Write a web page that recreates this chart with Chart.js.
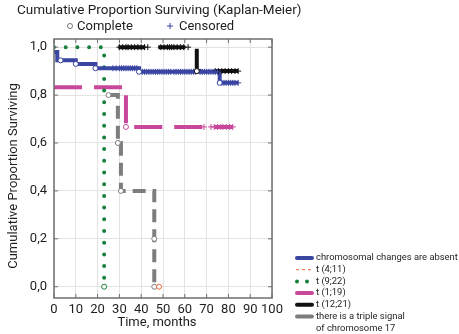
<!DOCTYPE html>
<html>
<head>
<meta charset="utf-8">
<script src="https://cdn.jsdelivr.net/npm/chart.js@4.4.0/dist/chart.umd.min.js"></script>
<style>
  html, body { margin: 0; padding: 0; background: #fff; }
  #wrap { position: relative; width: 459px; height: 334px; }
</style>
</head>
<body>
<div id="wrap"><canvas id="km"></canvas></div>
<script>
// Kaplan-Meier survival curves by karyotype group

const timeTicks = [0, 10, 20, 30, 40, 50, 60, 70, 80, 90, 100];
const survTicks = [0, 0.2, 0.4, 0.6, 0.8, 1.0];

// chromosomal changes are absent
const absentTimes = [0, 1.5, 10, 19, 39, 76, 84.5];
const absentSurv = [0.98, 0.945, 0.93, 0.912, 0.897, 0.851, 0.851];
const absentCompleteT = [3, 10, 19, 39, 76];
const absentCompleteS = [0.945, 0.93, 0.912, 0.897, 0.851];
const absentCensored = [27, 28.5, 30, 31, 32, 33, 34, 35, 36, 37, 38,
  40.5, 41.5, 42.5, 43.5, 44.5, 45.5, 46.5, 47.5, 48.5, 49.5, 50.5, 51.5, 52.5, 53.5,
  55, 56, 57, 58, 59, 60, 61, 62, 63, 64, 65, 67, 68, 69, 70, 71, 72, 73, 74, 75,
  77, 78, 79, 80, 81, 82, 83, 84.5];

// t(4;11)
const t411Times = [48.2];
const t411Surv = [0];
const t411CompleteT = [48.2];
const t411CompleteS = [0];
const t411Censored = [];

// t(9;22)
const t922Times = [0, 23];
const t922Surv = [1, 0];
const t922CompleteT = [23];
const t922CompleteS = [0];
const t922Censored = [];

// t(1;19)
const t119Times = [0, 33, 82];
const t119Surv = [0.833, 0.667, 0.667];
const t119CompleteT = [33];
const t119CompleteS = [0.667];
const t119Censored = [68.8, 72, 73.5, 75, 76.5, 77.5, 79, 80.5, 82];

// t(12;21)
const t1221Times = [29.5, 65.5, 84.5];
const t1221Surv = [1, 0.9, 0.9];
const t1221CompleteT = [65.5];
const t1221CompleteS = [0.9];
const t1221Censored = [30, 31.5, 33, 34, 35.5, 37, 38.5, 40, 41.5, 43,
  49, 50.5, 52, 53, 54, 55, 56.5, 58, 59.5, 61.5, 74, 75.5, 77, 78.5, 80, 81.5, 83, 84.5];

// triple signal of chromosome 17
const tripleTimes = [25, 29.3, 30.7, 46, 46];
const tripleSurv = [0.8, 0.6, 0.4, 0.2, 0];
const tripleCompleteT = [25, 29.3, 30.7, 46, 46];
const tripleCompleteS = [0.8, 0.6, 0.4, 0.2, 0];
const tripleCensored = [];

const groups = [
  { legend: ['chromosomal changes are absent'], color: '#3a46a2', width: 4, dash: [],
    times: absentTimes, surv: absentSurv, compT: absentCompleteT, compS: absentCompleteS, cens: absentCensored },
  { legend: ['t (4;11)'], color: '#f0643a', width: 1, dash: [3, 3],
    times: t411Times, surv: t411Surv, compT: t411CompleteT, compS: t411CompleteS, cens: t411Censored },
  { legend: ['t (9;22)'], color: '#17803d', width: 4, dash: [0, 11.7], dots: true,
    times: t922Times, surv: t922Surv, compT: t922CompleteT, compS: t922CompleteS, cens: t922Censored },
  { legend: ['t (1;19)'], color: '#c8479b', width: 4, dash: [28, 12],
    times: t119Times, surv: t119Surv, compT: t119CompleteT, compS: t119CompleteS, cens: t119Censored },
  { legend: ['t (12;21)'], color: '#111111', width: 4, dash: [27, 13],
    times: t1221Times, surv: t1221Surv, compT: t1221CompleteT, compS: t1221CompleteS, cens: t1221Censored },
  { legend: ['there is a triple signal', 'of chromosome 17'], color: '#7d7d7d', width: 4, dash: [13, 7],
    times: tripleTimes, surv: tripleSurv, compT: tripleCompleteT, compS: tripleCompleteS, cens: tripleCensored }
];

// level of a step curve at time t
function survivalAt(times, surv, t) {
  let s = surv[0];
  for (let i = 0; i < times.length; i++) {
    if (times[i] <= t) s = surv[i];
  }
  return s;
}

const datasets = [];
groups.forEach(g => {
  datasets.push({
    type: 'line',
    data: g.times.map((t, i) => ({ x: t, y: g.surv[i] })),
    stepped: true,
    borderColor: g.color,
    borderWidth: g.width,
    borderDash: g.dash,
    borderCapStyle: g.dots ? 'round' : 'butt',
    pointRadius: 0,
    fill: false,
    order: 2
  });
  datasets.push({
    type: 'scatter',
    data: g.compT.map((t, i) => ({ x: t, y: g.compS[i] })),
    pointStyle: 'circle',
    pointRadius: 2.5,
    pointBackgroundColor: '#ffffff',
    pointBorderColor: g.color,
    pointBorderWidth: 1,
    order: 0
  });
  datasets.push({
    type: 'scatter',
    data: g.cens.map(t => ({ x: t, y: survivalAt(g.times, g.surv, t) })),
    pointStyle: 'cross',
    pointRadius: 3,
    pointBorderColor: g.color,
    pointBorderWidth: 1,
    order: 1
  });
});

const FONT = 'Roboto, "DejaVu Sans", sans-serif';

// frame, inner ticks, titles and both legends
const decorations = {
  id: 'decorations',
  afterDraw(chart) {
    const { ctx, chartArea: a, scales } = chart;
    ctx.save();

    ctx.strokeStyle = '#6e6e6e';
    ctx.lineWidth = 1.5;
    ctx.strokeRect(a.left, a.top, a.right - a.left, a.bottom - a.top);

    ctx.lineWidth = 1;
    ctx.beginPath();
    timeTicks.forEach(t => {
      const x = scales.x.getPixelForValue(t);
      ctx.moveTo(x, a.bottom); ctx.lineTo(x, a.bottom - 4);
      ctx.moveTo(x, a.top); ctx.lineTo(x, a.top + 4);
    });
    survTicks.forEach(v => {
      const y = scales.y.getPixelForValue(v);
      ctx.moveTo(a.left, y); ctx.lineTo(a.left + 4, y);
      ctx.moveTo(a.right, y); ctx.lineTo(a.right - 4, y);
    });
    ctx.stroke();

    ctx.fillStyle = '#1e1e1e';
    ctx.font = '13.5px ' + FONT;
    ctx.textBaseline = 'middle';
    ctx.textAlign = 'left';
    ctx.fillText('Cumulative Proportion Surviving (Kaplan-Meier)', 17, 11);

    // complete / censored key
    ctx.font = '13px ' + FONT;
    ctx.strokeStyle = '#777';
    ctx.beginPath();
    ctx.arc(70, 26, 2.5, 0, Math.PI * 2);
    ctx.stroke();
    ctx.fillText('Complete', 77, 27);
    ctx.strokeStyle = '#3a46a2';
    ctx.beginPath();
    ctx.moveTo(167, 26); ctx.lineTo(173, 26);
    ctx.moveTo(170, 23); ctx.lineTo(170, 29);
    ctx.stroke();
    ctx.fillText('Censored', 179, 27);

    // axis titles
    ctx.textAlign = 'center';
    ctx.fillText('Time, months', 157, 323);
    ctx.save();
    ctx.translate(14, 176);
    ctx.rotate(-Math.PI / 2);
    ctx.fillText('Cumulative Proportion Surviving', 0, 0);
    ctx.restore();

    // group legend
    ctx.textAlign = 'left';
    ctx.font = '9.4px ' + FONT;
    let y = 258;
    groups.forEach(g => {
      ctx.strokeStyle = g.color;
      ctx.fillStyle = g.color;
      if (g.dots) {
        [297, 307].forEach(x => {
          ctx.beginPath();
          ctx.arc(x, y, 2, 0, Math.PI * 2);
          ctx.fill();
        });
      } else {
        ctx.lineWidth = g.width;
        ctx.lineCap = g.width > 2 ? 'round' : 'butt';
        ctx.setLineDash(g.width > 2 ? [] : g.dash);
        ctx.beginPath();
        ctx.moveTo(g.width > 2 ? 297 : 296, y);
        ctx.lineTo(g.width > 2 ? 312 : 313, y);
        ctx.stroke();
        ctx.setLineDash([]);
      }
      ctx.fillStyle = '#1e1e1e';
      g.legend.forEach((line, k) => {
        ctx.fillText(line, 316, y + k * 11.7);
      });
      y += 11.7 * g.legend.length;
    });

    ctx.restore();
  }
};

new Chart(document.getElementById('km'), {
  data: { datasets: datasets },
  options: {
    responsive: true,
    maintainAspectRatio: false,
    animation: false,
    layout: { padding: { left: 0, top: 39, right: 187, bottom: 0 } },
    plugins: {
      legend: { display: false },
      tooltip: { enabled: false }
    },
    scales: {
      x: {
        type: 'linear',
        min: 0,
        max: 100,
        afterBuildTicks: s => { s.ticks = timeTicks.map(v => ({ value: v })); },
        afterFit: s => { s.height = 36; },
        grid: { color: '#e3e3e3', drawTicks: false },
        border: { display: false },
        ticks: {
          padding: 4,
          autoSkip: false,
          maxRotation: 0,
          minRotation: 0,
          color: '#1e1e1e',
          font: { family: FONT, size: 13 }
        }
      },
      y: {
        type: 'linear',
        min: -0.047,
        max: 1.034,
        afterBuildTicks: s => { s.ticks = survTicks.map(v => ({ value: v })); },
        afterFit: s => { s.width = 54; },
        grid: { color: '#e3e3e3', drawTicks: false },
        border: { display: false },
        ticks: {
          padding: 7,
          color: '#1e1e1e',
          font: { family: FONT, size: 13 },
          callback: v => v.toFixed(1).replace('.', ',')
        }
      }
    }
  },
  plugins: [decorations]
});
</script>
</body>
</html>
